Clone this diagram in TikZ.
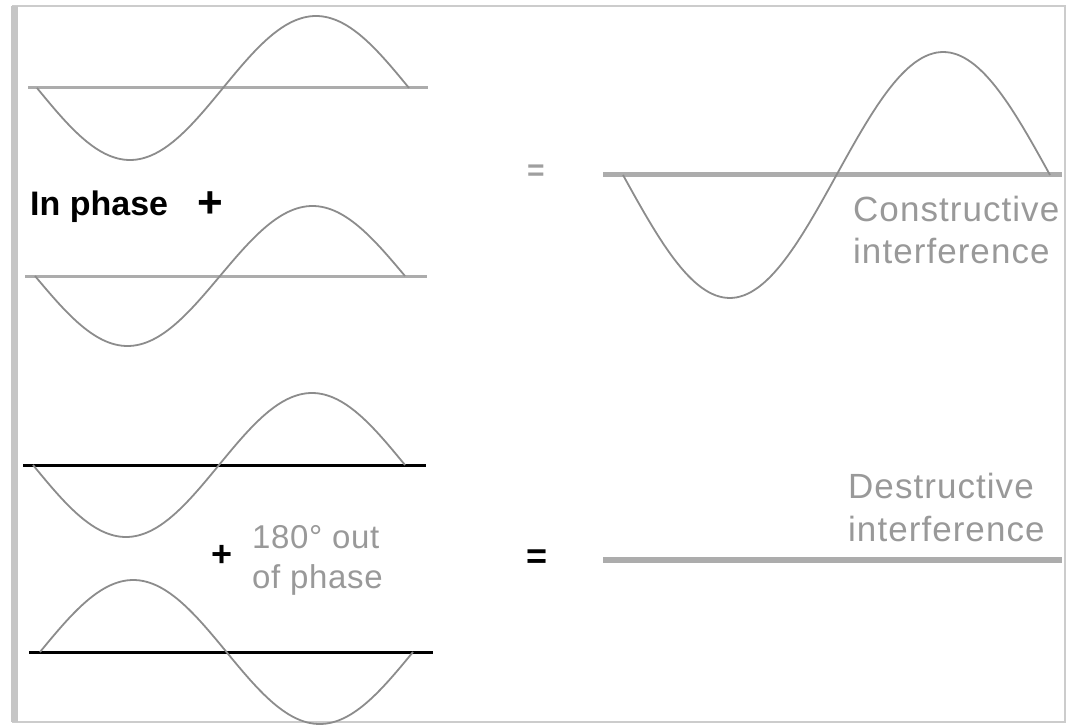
\documentclass[tikz,border=0pt]{standalone}
\usepackage{fontspec}
\setmainfont{Liberation Sans}
\usepackage{tikz}

\begin{document}
\begin{tikzpicture}[x=1pt, y=-1pt,
  wave/.style={gray!90, line width=1.8pt, smooth},
  axis/.style={gray!65, line width=3pt},
  lbl/.style={inner sep=0pt, anchor=base west, text=gray!80,
              font=\fontsize{35}{41}\selectfont\addfontfeature{LetterSpace=3}},
  sign/.style={inner sep=0pt, font=\fontsize{36}{42}\selectfont\bfseries},
  ]
  \useasboundingbox (0,0) rectangle (1070,727);
  % frame
  \draw[gray!40, line width=2pt] (13,6) rectangle (1065,722);
  \draw[gray!45, line width=7pt] (14,6) -- (14,722);

  % in phase pair
  \draw[axis] (28,88) -- (428,88);
  \draw[wave] plot[domain=0:360, samples=61] ({37+\x/360*372}, {88+72*sin(\x)});
  \draw[axis] (25,276) -- (427,276);
  \draw[wave] plot[domain=0:360, samples=61] ({35+\x/360*370}, {276+70*sin(\x)});

  % 180 degrees out of phase pair
  \draw[axis, black] (23,465) -- (426,465);
  \draw[wave] plot[domain=0:360, samples=61] ({33+\x/360*372}, {465+72*sin(\x)});
  \draw[axis, black] (29,652) -- (433,652);
  \draw[wave] plot[domain=0:360, samples=61] ({40+\x/360*373}, {652-72*sin(\x)});

  % results
  \draw[axis, line width=5pt] (603,175) -- (1062,175);
  \draw[wave] plot[domain=0:360, samples=61] ({623+\x/360*427}, {175+123*sin(\x)});
  \draw[axis, line width=6pt] (603,560) -- (1062,560);

  \node[anchor=base west, inner sep=0pt, font=\fontsize{34}{40}\selectfont\bfseries]
        (inph) at (30,216) {In phase};
  \node[sign, font=\fontsize{44}{50}\selectfont\bfseries] (plus1) at (210,205) {+};
  \node[sign] (plus2) at (222,556) {+};
  \node[lbl, font=\fontsize{33}{40}\selectfont\addfontfeature{LetterSpace=2}]
        (out1) at (252,548) {180° out};
  \node[lbl, font=\fontsize{33}{40}\selectfont\addfontfeature{LetterSpace=2}]
        (out2) at ([yshift=-40pt]out1.base west) {of phase};

  \node[sign, text=gray!75, font=\fontsize{30}{36}\selectfont\bfseries] (eq1) at (536,173) {=};
  \node[sign] (eq2) at (537,559) {=};

  \node[lbl] (con1) at (853,222) {Constructive};
  \node[lbl] (con2) at ([yshift=-41pt]con1.base west) {interference};
  \node[lbl] (des1) at (848,498) {Destructive};
  \node[lbl] (des2) at ([yshift=-43pt]des1.base west) {interference};
\end{tikzpicture}
\end{document}
